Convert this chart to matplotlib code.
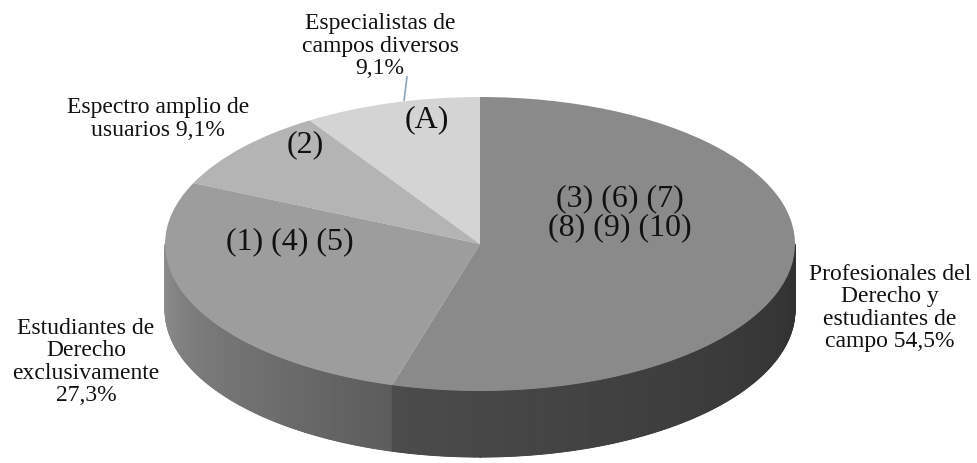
#!/usr/bin/env python3
from matplotlib import pyplot as plt
from matplotlib.collections import PolyCollection
from matplotlib.colors import to_rgb
import numpy as np

# slices in counter-clockwise order starting at 12 o'clock
shares = [9.1, 9.1, 27.3, 54.5]
inner_labels = ['(A)', '(2)', '(1) (4) (5)', '(3) (6) (7)\n(8) (9) (10)']
outer_labels = ['Especialistas de\ncampos diversos\n9,1%',
                'Espectro amplio de\nusuarios 9,1%',
                'Estudiantes de\nDerecho\nexclusivamente\n27,3%',
                'Profesionales del\nDerecho y\nestudiantes de\ncampo 54,5%']

top_colors = ['#d4d4d4', '#b4b4b4', '#9d9d9d', '#8a8a8a']
side_left = ['#d0d0d0', '#b0b0b0', '#8e8e8e', '#4c4c4c']
side_right = ['#b0b0b0', '#909090', '#5c5c5c', '#303030']

inner_pos = [(-0.168, 0.844), (-0.556, 0.673), (-0.603, 0.014), (0.444, 0.211)]
outer_pos = [(-0.317, 1.347), (-1.022, 0.850), (-1.251, -0.803), (1.302, -0.435)]

DEPTH = 0.45


def draw_sides(ax, start=90.0):
    total = sum(shares)
    a0 = start
    for i, s in enumerate(shares):
        a1 = a0 + 360.0 * s / total
        # visible part of the rim is the lower half (180..360 deg)
        for off in (0.0, 360.0):
            lo = max(a0, 180.0 + off)
            hi = min(a1, 360.0 + off)
            if hi <= lo:
                continue
            t = np.linspace(lo, hi, int(hi - lo) * 2 + 2)
            c0 = np.array(to_rgb(side_left[i]))
            c1 = np.array(to_rgb(side_right[i]))
            # solid backing band so thin strips leave no gaps
            r = np.radians(t)
            band = np.column_stack([np.r_[np.cos(r), np.cos(r)[::-1]],
                                    np.r_[np.sin(r), np.sin(r)[::-1] - DEPTH]])
            ax.fill(band[:, 0], band[:, 1], color=tuple((c0 + c1) / 2),
                    lw=0, zorder=0.4)
            polys, cols = [], []
            for k in range(len(t) - 1):
                x1, x2 = np.cos(r[k]), np.cos(r[k + 1])
                y1, y2 = np.sin(r[k]), np.sin(r[k + 1])
                polys.append([(x1, y1), (x2, y2), (x2, y2 - DEPTH), (x1, y1 - DEPTH)])
                f = (t[k] - lo) / max(hi - lo, 1e-9)
                cols.append(tuple(c0 + (c1 - c0) * f))
            pc = PolyCollection(polys, facecolors=cols, edgecolors=cols,
                                linewidths=0.6, zorder=0.5)
            ax.add_collection(pc)
        a0 = a1


def main():
    plt.rcParams['font.family'] = ['Liberation Serif', 'DejaVu Serif']
    fig = plt.figure(figsize=(9.78, 4.63), dpi=100)
    ax = fig.add_axes([0, 0, 1, 1])

    draw_sides(ax)
    ax.pie(shares, colors=top_colors, startangle=90, counterclock=True,
           radius=1, wedgeprops=dict(linewidth=0))

    ax.set_aspect('auto')
    ax.set_xlim(-1.524, 1.581)
    ax.set_ylim(-1.490, 1.660)
    ax.axis('off')

    for lab, (x, y) in zip(inner_labels, inner_pos):
        ax.text(x, y, lab, ha='center', va='center', fontsize=23,
                linespacing=1.0, color='#111111', zorder=5)
    for lab, (x, y) in zip(outer_labels, outer_pos):
        ax.text(x, y, lab, ha='center', va='center', fontsize=17,
                linespacing=1.09, color='#111111', zorder=5)

    # leader line for the small top slice
    ax.plot([-0.232, -0.241], [1.136, 0.980], color='#8ea3b8', lw=1.2, zorder=4)

    fig.savefig('out.png', dpi=100)


if __name__ == "__main__":
    main()
